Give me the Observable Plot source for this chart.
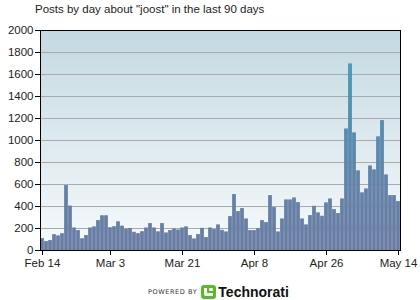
<!DOCTYPE html>
<html>
<head>
<meta charset="utf-8">
<script src="https://cdn.jsdelivr.net/npm/d3@7"></script>
<script src="https://cdn.jsdelivr.net/npm/@observablehq/plot@0.6"></script>
<style>
  html, body { margin: 0; padding: 0; background: #fff; }
  #wrap { position: relative; width: 420px; height: 300px; overflow: hidden; font-family: "Liberation Sans", Arial, sans-serif; }
  #title { position: absolute; left: 35px; top: 3px; font-size: 11.5px; color: #222; white-space: nowrap; }
  #footer { position: absolute; left: 148px; top: 285px; height: 14px; display: flex; align-items: center; white-space: nowrap; }
  #footer .pb { font-family: "DejaVu Sans", sans-serif; font-size: 6.5px; letter-spacing: 0.6px; color: #333; margin-right: 4px; }
  #footer .tn { font-family: "Liberation Sans", Arial, sans-serif; font-weight: bold; font-size: 14px; color: #111; margin-left: 2px; }
  #chart { position: absolute; left: 0; top: 0; }
</style>
</head>
<body>
<div id="wrap">
  <div id="chart"></div>
  <div id="title">Posts by day about "joost" in the last 90 days</div>
  <div id="footer">
    <span class="pb">POWERED BY</span>
    <svg width="15" height="14" viewBox="0 0 15 14">
      <rect x="0" y="0" width="15" height="14" rx="3" fill="#5cb82e"/>
      <path d="M3 3 L3 9 Q3 11 5 11 L12 11 L12 8 L6 8 L6 3 Z" fill="#fff"/>
      <rect x="8" y="3" width="4" height="3" rx="1.2" fill="#fff"/>
    </svg>
    <span class="tn">Technorati</span>
  </div>
</div>
<script>
// Categories: 90 days, Feb 14 .. May 14
const startDay = new Date(Date.UTC(2007, 1, 14));
const dayIndex = d3.range(90);
const days = dayIndex.map(i => d3.utcDay.offset(startDay, i));

// Posts per day
const posts = [
  104, 77, 87, 140, 129, 149, 586, 400, 201, 177,
  103, 132, 201, 211, 268, 312, 312, 203, 212, 257,
  218, 190, 197, 162, 149, 167, 201, 241, 201, 166,
  241, 156, 177, 192, 183, 201, 211, 132, 101, 141,
  198, 114, 201, 186, 229, 180, 165, 305, 505, 350,
  377, 283, 177, 177, 195, 268, 250, 495, 386, 165,
  283, 456, 456, 474, 432, 283, 229, 314, 398, 338,
  308, 429, 465, 368, 332, 465, 1101, 1692, 1065, 720,
  520, 556, 765, 729, 1029, 1177, 683, 495, 495, 441
];

// Tick labels
const xTickIndex = [0, 17, 35, 53, 71, 89];
const xTickLabels = ["Feb 14", "Mar 3", "Mar 21", "Apr 8", "Apr 26", "May 14"];
const yTicks = [0, 200, 400, 600, 800, 1000, 1200, 1400, 1600, 1800, 2000];

const data = dayIndex.map(i => ({i, date: days[i], posts: posts[i]}));

const chart = Plot.plot({
  width: 420,
  height: 300,
  marginLeft: 40,
  marginRight: 20,
  marginTop: 30,
  marginBottom: 50,
  style: {fontFamily: "'Liberation Sans', Arial, sans-serif", fontSize: "11.5px", color: "#000", background: "transparent"},
  x: {type: "band", domain: dayIndex, padding: 0},
  y: {domain: [0, 2000]},
  marks: [
    Plot.frame({fill: "url(#bgGrad)", stroke: "none"}),
    Plot.gridY(yTicks.slice(1, -1), {stroke: "#aaaaaa", strokeOpacity: 1, strokeWidth: 1}),
    Plot.barY(data, {x: "i", y: "posts", fill: "url(#barGrad)", stroke: "#6a7fa6", strokeWidth: 0.8, insetLeft: 0.6, insetRight: 0.6}),
    Plot.frame({stroke: "#000", strokeWidth: 1}),
    Plot.axisY({ticks: yTicks, tickFormat: d => String(d), tickSize: 5, tickPadding: 2, fill: "#222", stroke: "#000", label: null}),
    Plot.axisX({ticks: xTickIndex, tickFormat: i => xTickLabels[xTickIndex.indexOf(i)], tickSize: 5, tickPadding: 3, fill: "#222", stroke: "#000", label: null})
  ]
});

const svg = d3.select(chart);
const defs = svg.insert("defs", ":first-child");
const bg = defs.append("linearGradient").attr("id", "bgGrad")
  .attr("gradientUnits", "userSpaceOnUse").attr("x1", 0).attr("y1", 30).attr("x2", 0).attr("y2", 250);
bg.append("stop").attr("offset", "0%").attr("stop-color", "#c4d9e2");
bg.append("stop").attr("offset", "100%").attr("stop-color", "#f6fafc");
const bar = defs.append("linearGradient").attr("id", "barGrad")
  .attr("gradientUnits", "userSpaceOnUse").attr("x1", 0).attr("y1", 250).attr("x2", 0).attr("y2", 30);
bar.append("stop").attr("offset", "0%").attr("stop-color", "#6b7ba3");
bar.append("stop").attr("offset", "30%").attr("stop-color", "#5f83a8");
bar.append("stop").attr("offset", "60%").attr("stop-color", "#3c9ab6");
bar.append("stop").attr("offset", "100%").attr("stop-color", "#1fb9c3");

document.getElementById("chart").appendChild(chart);
</script>
</body>
</html>
